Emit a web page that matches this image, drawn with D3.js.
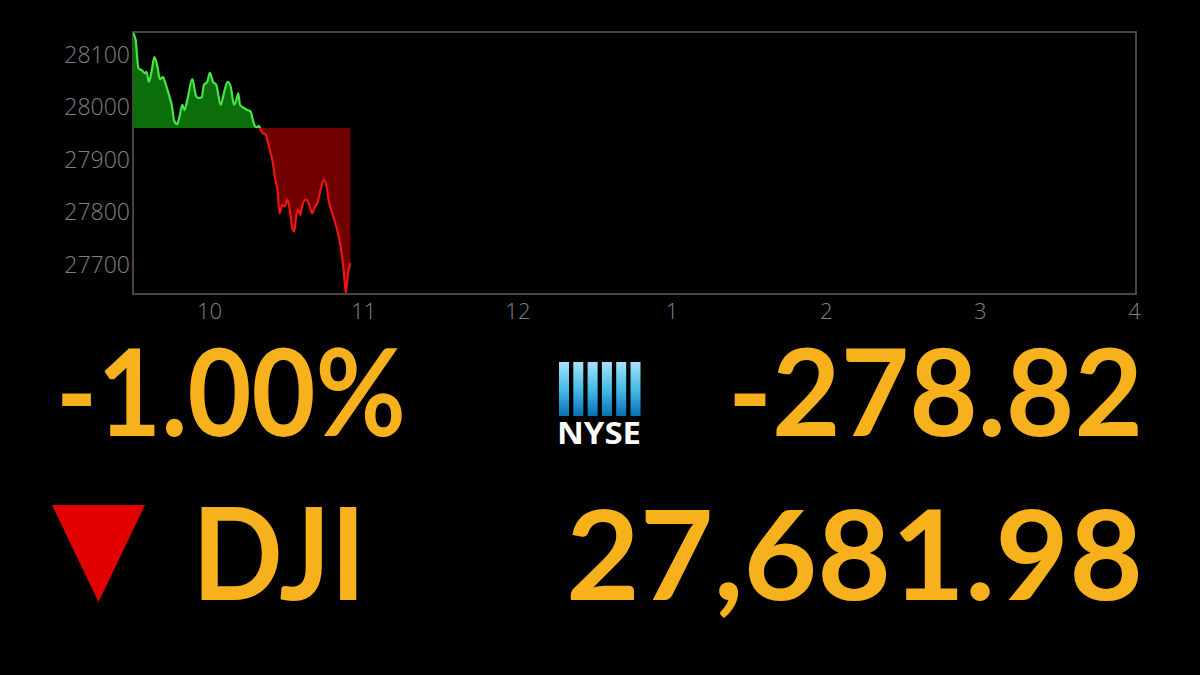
<!DOCTYPE html>
<html>
<head>
<meta charset="utf-8">
<script src="https://cdn.jsdelivr.net/npm/d3@7"></script>
<style>
  html, body { margin: 0; padding: 0; background: #000; }
  svg { display: block; }
</style>
</head>
<body>
<script>
// minutes after 9:30 and DJI level
var minutes = [0.4, 1.4, 2.5, 3.8, 5.1, 5.6, 6.6, 7.7, 8.7, 9.9, 10.8, 12.1, 12.8, 14.4, 15.7, 16.3,
    17.6, 18.5, 19.6, 20.4, 21.5, 23.5, 24.8, 25.8, 27.1, 28.0, 29.3, 30.3, 31.5, 32.8, 34.5, 35.8,
    37.2, 38.4, 39.7, 40.6, 41.4, 42.0, 43.2, 44.9, 46.2, 46.8, 47.8, 48.7, 49.4, 50.0, 51.0, 52.0,
    53.3, 54.6, 55.9, 56.7, 57.4, 58.5, 59.5, 60.5, 61.3, 62.4, 63.1, 63.9, 64.7, 65.5, 66.2, 67.5,
    68.8, 70.1, 71.2, 72.1, 73.4, 74.7, 75.6, 76.6, 77.9, 79.5, 81.2, 82.5, 83.2, 84.1, 85.0];
var levels = [28142, 28129, 28075, 28071, 28065, 28068, 28049, 28071, 28096, 28078, 28054, 28058, 28049, 28024, 27998, 27976,
    27968, 27983, 28005, 27995, 28014, 28054, 28024, 28018, 28019, 28043, 28049, 28066, 28049, 28043, 28005, 28028,
    28049, 28040, 28005, 28014, 28027, 28005, 28000, 27995, 27992, 27981, 27965, 27962, 27965, 27958, 27951, 27948,
    27925, 27900, 27859, 27840, 27798, 27814, 27811, 27824, 27808, 27770, 27763, 27792, 27805, 27795, 27811, 27824,
    27817, 27798, 27811, 27817, 27843, 27862, 27852, 27821, 27798, 27773, 27735, 27684, 27646, 27684, 27703];
var prevClose = 27960.80;

var hourTicks = [30, 90, 150, 210, 270, 330, 390];
var hourLabels = ["10", "11", "12", "1", "2", "3", "4"];
var levelTicks = [27700, 27800, 27900, 28000, 28100];

var pctChange = "-1.00%";
var pointChange = "-278.82";
var indexName = "DJI";
var lastLevel = "27,681.98";

var series = minutes.map(function(m, i) {
    return { m: m, v: levels[i] };
});

var width = 1200, height = 675;
var frame = { left: 133, top: 32, right: 1136, bottom: 294 };
var orange = "#f6b11c";

var svg = d3.select("body").append("svg")
    .attr("width", width)
    .attr("height", height)
    .style("background", "#000");

var x = d3.scaleLinear()
    .domain([0, 390])
    .range([frame.left - 1, frame.right - 2]);

var y = d3.scaleLinear()
    .domain(d3.extent(levels))
    .range([frame.bottom - 1, frame.top + 1]);

var base = y(prevClose);

var defs = svg.append("defs");
defs.append("clipPath").attr("id", "above")
    .append("rect")
    .attr("x", frame.left).attr("y", frame.top - 5)
    .attr("width", frame.right - frame.left).attr("height", base - frame.top + 5);
defs.append("clipPath").attr("id", "below")
    .append("rect")
    .attr("x", frame.left).attr("y", base)
    .attr("width", frame.right - frame.left).attr("height", frame.bottom - base + 5);

var grad = defs.append("linearGradient")
    .attr("id", "nyseBar")
    .attr("x1", 0).attr("y1", 0).attr("x2", 0).attr("y2", 1);
grad.append("stop").attr("offset", "0%").attr("stop-color", "#a6e4f7");
grad.append("stop").attr("offset", "55%").attr("stop-color", "#3fb6e6");
grad.append("stop").attr("offset", "100%").attr("stop-color", "#0b6fb0");

var area = d3.area()
    .x(function(d) { return x(d.m); })
    .y0(base)
    .y1(function(d) { return y(d.v); })
    .curve(d3.curveMonotoneX);

var line = d3.line()
    .x(function(d) { return x(d.m); })
    .y(function(d) { return y(d.v); })
    .curve(d3.curveMonotoneX);

// frame
svg.append("rect")
    .attr("x", frame.left)
    .attr("y", frame.top)
    .attr("width", frame.right - frame.left)
    .attr("height", frame.bottom - frame.top)
    .attr("fill", "none")
    .attr("stroke", "#5c5c5c")
    .attr("stroke-width", 1.5);

[["above", "#0b6e0b", "#45e645"], ["below", "#700000", "#ee1414"]].forEach(function(p) {
    var g = svg.append("g").attr("clip-path", "url(#" + p[0] + ")");
    g.append("path").datum(series)
        .attr("d", area)
        .attr("fill", p[1]);
    g.append("path").datum(series)
        .attr("d", line)
        .attr("fill", "none")
        .attr("stroke", p[2])
        .attr("stroke-width", 2.2);
});

// axes
var xAxis = svg.append("g")
    .attr("transform", "translate(0," + frame.bottom + ")")
    .call(d3.axisBottom(x)
        .tickValues(hourTicks)
        .tickSize(0)
        .tickPadding(9)
        .tickFormat(function(d, i) { return hourLabels[i]; }));

var yAxis = svg.append("g")
    .attr("transform", "translate(" + (frame.left - 3) + ",0)")
    .call(d3.axisLeft(y)
        .tickValues(levelTicks)
        .tickSize(0)
        .tickPadding(0)
        .tickFormat(d3.format("d")));

[xAxis, yAxis].forEach(function(a) {
    a.select(".domain").remove();
    a.selectAll("text")
        .attr("fill", "#808080")
        .style("font-family", "'Open Sans', sans-serif")
        .style("font-weight", "300")
        .style("font-size", "22px");
});
yAxis.selectAll("text").style("font-size", "23px");

// big numbers
var big = function(txt, x0, x1, base, size) {
    svg.append("text")
        .attr("x", x0)
        .attr("y", base)
        .attr("textLength", x1 - x0)
        .attr("lengthAdjust", "spacingAndGlyphs")
        .attr("fill", orange)
        .style("font-family", "Lato, sans-serif")
        .style("font-weight", "700")
        .style("font-size", size + "px")
        .text(txt);
};
big(pctChange, 56, 406, 436, 120);
big(pointChange, 728, 1143, 436, 120);
big(indexName, 192, 366, 600, 128);
big(lastLevel, 566, 1143, 600, 124);

// down arrow
svg.append("path")
    .attr("d", "M52,505L145,505L98.5,602Z")
    .attr("fill", "#e30000");

// NYSE mark
var logo = svg.append("g");
logo.selectAll("rect")
    .data(d3.range(6))
    .enter().append("rect")
    .attr("x", function(d) { return 559 + d * 14.3; })
    .attr("y", 362)
    .attr("width", 10)
    .attr("height", 54)
    .attr("fill", "url(#nyseBar)");
logo.append("text")
    .attr("x", 557)
    .attr("y", 444)
    .attr("textLength", 84)
    .attr("lengthAdjust", "spacingAndGlyphs")
    .attr("fill", "#fff")
    .style("font-family", "'Open Sans', sans-serif")
    .style("font-weight", "700")
    .style("font-size", "30px")
    .text("NYSE");
</script>
</body>
</html>
